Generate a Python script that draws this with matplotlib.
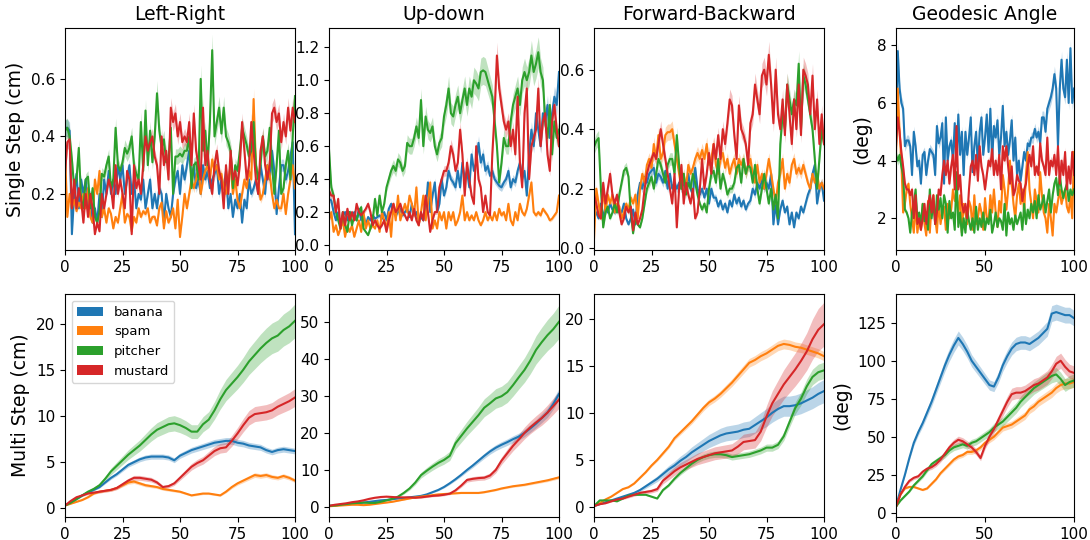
import numpy as np
import matplotlib
matplotlib.use("Agg")
import matplotlib.pyplot as plt
from matplotlib.patches import Patch

objects = ["banana", "spam", "pitcher", "mustard"]
colors = ["#1f77b4", "#ff7f0e", "#2ca02c", "#d62728"]
titles = ["Left-Right", "Up-down", "Forward-Backward", "Geodesic Angle"]

x_single = list(range(0, 101))
x_multi = [i * 2.5 for i in range(41)]

# ---------------- Single step: Left-Right ----------------
lr_banana = [0.43,0.43,0.42,0.06,0.20,0.27,0.15,0.25,0.20,0.25,0.15,0.20,0.10,0.15,0.10,0.20,0.12,0.25,0.20,0.28,
             0.20,0.25,0.20,0.30,0.25,0.30,0.20,0.25,0.30,0.20,0.25,0.15,0.20,0.18,0.25,0.15,0.20,0.25,0.15,0.20,
             0.15,0.22,0.20,0.10,0.20,0.15,0.12,0.20,0.25,0.28,0.20,0.30,0.25,0.30,0.35,0.25,0.30,0.22,0.25,0.20,
             0.30,0.25,0.28,0.22,0.25,0.27,0.30,0.20,0.25,0.22,0.28,0.15,0.20,0.12,0.18,0.15,0.20,0.10,0.18,0.15,
             0.25,0.20,0.22,0.25,0.20,0.30,0.25,0.20,0.30,0.25,0.35,0.28,0.13,0.22,0.30,0.30,0.25,0.28,0.33,0.38,0.06]
lr_spam = [0.35,0.12,0.20,0.15,0.18,0.14,0.17,0.15,0.20,0.15,0.22,0.12,0.10,0.25,0.20,0.28,0.12,0.15,0.10,0.15,
           0.13,0.08,0.12,0.10,0.15,0.20,0.10,0.13,0.12,0.07,0.12,0.10,0.15,0.12,0.14,0.13,0.15,0.10,0.12,0.12,
           0.09,0.15,0.17,0.08,0.14,0.10,0.12,0.15,0.08,0.18,0.05,0.12,0.20,0.15,0.20,0.25,0.22,0.25,0.30,0.20,
           0.25,0.28,0.30,0.25,0.32,0.28,0.30,0.25,0.27,0.22,0.20,0.25,0.30,0.20,0.25,0.18,0.15,0.20,0.25,0.22,
           0.28,0.25,0.53,0.30,0.25,0.18,0.20,0.25,0.30,0.27,0.20,0.15,0.18,0.15,0.15,0.20,0.13,0.20,0.25,0.30,0.22]
lr_pitcher = [0.42,0.43,0.40,0.32,0.22,0.25,0.36,0.18,0.15,0.25,0.26,0.15,0.22,0.12,0.10,0.14,0.27,0.26,0.30,0.33,
              0.22,0.25,0.43,0.30,0.28,0.31,0.36,0.34,0.36,0.40,0.30,0.27,0.25,0.45,0.28,0.49,0.30,0.42,0.31,0.40,
              0.55,0.42,0.36,0.39,0.31,0.32,0.43,0.20,0.33,0.33,0.34,0.33,0.35,0.35,0.40,0.22,0.30,0.31,0.25,0.60,
              0.35,0.42,0.30,0.45,0.70,0.40,0.45,0.50,0.41,0.50,0.40,0.38,0.35,0.22,0.30,0.28,0.35,0.43,0.40,0.37,
              0.33,0.35,0.45,0.30,0.25,0.30,0.40,0.33,0.35,0.43,0.30,0.20,0.30,0.42,0.20,0.22,0.30,0.35,0.25,0.40,0.54]
lr_mustard = [0.27,0.38,0.39,0.15,0.25,0.15,0.22,0.18,0.10,0.20,0.12,0.20,0.15,0.06,0.10,0.07,0.20,0.15,0.20,0.25,
              0.22,0.15,0.30,0.20,0.25,0.20,0.15,0.28,0.25,0.06,0.30,0.22,0.25,0.20,0.30,0.40,0.35,0.38,0.40,0.33,
              0.30,0.20,0.40,0.30,0.35,0.25,0.50,0.45,0.48,0.40,0.45,0.38,0.40,0.38,0.45,0.30,0.48,0.35,0.30,0.25,
              0.50,0.30,0.35,0.25,0.20,0.30,0.35,0.28,0.25,0.15,0.30,0.20,0.35,0.25,0.28,0.23,0.30,0.45,0.35,0.25,
              0.30,0.45,0.35,0.25,0.20,0.35,0.40,0.30,0.25,0.30,0.48,0.50,0.45,0.48,0.38,0.45,0.40,0.50,0.42,0.50,0.45]

# ---------------- Single step: Up-down ----------------
ud_banana = [0.28,0.27,0.20,0.15,0.20,0.12,0.18,0.20,0.15,0.20,0.18,0.20,0.15,0.22,0.15,0.18,0.12,0.17,0.15,0.18,
             0.16,0.17,0.18,0.16,0.20,0.15,0.22,0.25,0.20,0.18,0.20,0.22,0.18,0.20,0.22,0.17,0.25,0.18,0.20,0.15,
             0.17,0.15,0.20,0.38,0.20,0.30,0.38,0.20,0.25,0.40,0.30,0.35,0.45,0.40,0.38,0.35,0.45,0.35,0.50,0.40,
             0.45,0.35,0.55,0.45,0.50,0.62,0.50,0.55,0.45,0.48,0.42,0.45,0.40,0.38,0.36,0.35,0.38,0.40,0.45,0.35,
             0.40,0.38,0.45,0.50,0.40,0.45,0.30,0.55,0.70,0.60,0.80,0.70,0.60,0.80,0.75,0.85,0.65,0.80,0.90,0.85,1.05]
ud_spam = [0.15,0.20,0.08,0.12,0.06,0.10,0.15,0.05,0.12,0.08,0.12,0.05,0.10,0.15,0.08,0.20,0.10,0.15,0.10,0.12,
           0.10,0.15,0.08,0.20,0.15,0.10,0.20,0.05,0.25,0.15,0.30,0.15,0.20,0.25,0.20,0.30,0.25,0.18,0.35,0.12,
           0.20,0.30,0.15,0.25,0.38,0.10,0.15,0.10,0.20,0.15,0.20,0.10,0.20,0.15,0.20,0.12,0.15,0.20,0.30,0.15,
           0.20,0.15,0.18,0.15,0.20,0.15,0.12,0.15,0.20,0.15,0.18,0.15,0.20,0.15,0.22,0.18,0.20,0.15,0.25,0.15,
           0.12,0.20,0.15,0.25,0.20,0.18,0.22,0.30,0.38,0.20,0.18,0.20,0.18,0.22,0.20,0.18,0.15,0.16,0.18,0.20,0.30]
ud_pitcher = [0.58,0.35,0.30,0.20,0.15,0.10,0.20,0.12,0.08,0.20,0.12,0.18,0.15,0.20,0.23,0.10,0.08,0.06,0.10,0.15,
              0.28,0.18,0.30,0.20,0.25,0.35,0.40,0.45,0.48,0.45,0.52,0.50,0.45,0.48,0.62,0.60,0.60,0.65,0.72,0.65,
              0.88,0.60,0.78,0.70,0.68,0.72,0.60,0.55,0.62,0.65,0.78,0.85,0.95,0.80,0.78,0.85,0.90,0.80,0.88,0.95,
              0.85,0.95,0.90,1.00,0.98,0.95,1.05,1.06,1.05,1.00,0.95,0.90,0.75,0.60,0.38,0.50,0.65,0.60,0.60,0.75,
              0.85,0.90,0.95,0.85,1.00,1.05,1.00,1.05,1.15,1.05,1.10,1.17,1.05,1.00,0.75,0.65,0.85,0.55,0.75,0.65,0.70]
ud_mustard = [0.33,0.30,0.30,0.20,0.28,0.10,0.20,0.12,0.22,0.15,0.20,0.15,0.25,0.20,0.18,0.20,0.22,0.25,0.20,0.12,
              0.15,0.12,0.10,0.12,0.15,0.08,0.15,0.20,0.25,0.20,0.22,0.25,0.20,0.18,0.15,0.20,0.15,0.22,0.15,0.12,
              0.20,0.15,0.30,0.20,0.08,0.15,0.20,0.20,0.35,0.40,0.45,0.45,0.50,0.60,0.55,0.45,0.50,0.70,0.55,0.30,
              0.50,0.40,0.30,0.25,0.60,0.40,0.35,0.20,0.30,0.20,0.18,0.55,0.80,1.15,0.95,0.85,0.75,0.70,0.75,0.60,
              0.70,0.55,0.90,0.50,0.35,0.80,0.95,0.40,0.60,0.65,0.70,0.95,0.60,0.75,0.80,0.55,0.45,0.75,0.85,0.70,0.60]

# ---------------- Single step: Forward-Backward ----------------
fb_banana = [0.12,0.12,0.10,0.15,0.10,0.14,0.12,0.15,0.13,0.12,0.13,0.12,0.12,0.15,0.10,0.08,0.10,0.13,0.08,0.18,
             0.22,0.20,0.24,0.22,0.25,0.26,0.27,0.22,0.25,0.24,0.22,0.26,0.20,0.25,0.20,0.22,0.20,0.22,0.20,0.22,
             0.20,0.25,0.20,0.18,0.27,0.20,0.18,0.20,0.17,0.20,0.15,0.20,0.17,0.17,0.14,0.16,0.13,0.15,0.12,0.16,
             0.14,0.18,0.15,0.17,0.14,0.16,0.13,0.15,0.16,0.20,0.18,0.22,0.20,0.23,0.20,0.22,0.20,0.25,0.08,0.15,
             0.08,0.13,0.16,0.12,0.14,0.08,0.12,0.07,0.12,0.10,0.14,0.12,0.15,0.18,0.20,0.25,0.28,0.15,0.20,0.22,0.16]
fb_spam = [0.03,0.20,0.15,0.10,0.20,0.12,0.18,0.15,0.18,0.12,0.15,0.14,0.10,0.12,0.15,0.13,0.17,0.15,0.18,0.10,
           0.20,0.25,0.22,0.28,0.30,0.27,0.35,0.30,0.38,0.30,0.32,0.38,0.39,0.39,0.40,0.35,0.30,0.25,0.20,0.25,
           0.20,0.28,0.25,0.27,0.30,0.32,0.30,0.33,0.30,0.35,0.28,0.30,0.35,0.28,0.25,0.30,0.32,0.27,0.30,0.25,
           0.28,0.30,0.25,0.30,0.28,0.30,0.25,0.28,0.30,0.25,0.22,0.28,0.22,0.25,0.20,0.25,0.30,0.25,0.20,0.15,
           0.22,0.25,0.30,0.20,0.25,0.22,0.28,0.30,0.25,0.27,0.25,0.28,0.25,0.22,0.20,0.25,0.22,0.25,0.20,0.22,0.20]
fb_pitcher = [0.34,0.36,0.37,0.20,0.07,0.12,0.14,0.10,0.12,0.15,0.12,0.18,0.22,0.26,0.27,0.24,0.12,0.05,0.10,0.08,
              0.07,0.10,0.15,0.20,0.22,0.24,0.20,0.25,0.30,0.28,0.25,0.22,0.28,0.30,0.30,0.25,0.38,0.28,0.20,0.25,
              0.18,0.22,0.20,0.25,0.22,0.18,0.15,0.13,0.15,0.12,0.20,0.25,0.26,0.22,0.30,0.20,0.25,0.22,0.18,0.20,
              0.20,0.22,0.27,0.28,0.22,0.30,0.25,0.28,0.27,0.22,0.28,0.20,0.15,0.20,0.25,0.20,0.15,0.20,0.13,0.18,
              0.10,0.35,0.45,0.40,0.55,0.50,0.45,0.50,0.48,0.62,0.40,0.58,0.55,0.50,0.45,0.40,0.30,0.20,0.30,0.40,0.35]
fb_mustard = [0.18,0.15,0.11,0.10,0.22,0.15,0.20,0.25,0.18,0.15,0.18,0.12,0.08,0.10,0.14,0.12,0.14,0.06,0.12,0.08,
              0.10,0.13,0.20,0.25,0.28,0.30,0.32,0.30,0.35,0.40,0.35,0.30,0.25,0.20,0.15,0.25,0.07,0.20,0.28,0.15,
              0.22,0.18,0.15,0.20,0.10,0.12,0.20,0.30,0.20,0.25,0.32,0.25,0.35,0.30,0.38,0.30,0.40,0.35,0.42,0.50,
              0.48,0.38,0.30,0.48,0.40,0.38,0.35,0.28,0.42,0.45,0.55,0.50,0.45,0.58,0.60,0.55,0.65,0.55,0.42,0.60,
              0.45,0.40,0.50,0.38,0.55,0.45,0.35,0.50,0.40,0.55,0.38,0.60,0.58,0.55,0.45,0.58,0.40,0.50,0.35,0.45,0.35]

# ---------------- Single step: Geodesic angle ----------------
ga_banana = [5.0,7.8,6.5,6.0,5.8,4.5,4.7,4.7,4.5,3.5,5.0,4.5,3.8,4.0,3.2,4.2,4.3,3.5,4.0,4.4,
             4.3,4.2,3.5,5.2,4.6,4.8,5.3,3.2,5.5,4.0,4.5,4.7,4.0,5.3,3.8,5.6,4.2,5.0,3.5,5.0,
             4.2,4.8,5.5,3.6,4.5,5.0,3.8,5.0,5.5,4.2,4.8,5.6,4.3,5.8,4.0,5.2,4.8,5.4,4.2,4.8,
             5.9,4.5,5.0,4.2,4.7,5.4,4.0,4.8,3.5,4.0,3.3,3.8,4.3,4.0,4.6,4.5,4.8,4.8,5.1,4.8,
             5.0,4.6,5.5,5.5,5.0,5.8,6.0,6.2,6.5,7.0,6.5,4.5,6.5,7.5,6.5,6.2,7.5,6.0,7.9,6.0,6.5]
ga_spam = [4.2,6.5,5.0,4.0,2.2,2.5,3.0,3.2,2.5,2.0,1.5,2.5,1.5,2.0,1.6,2.5,1.8,1.4,2.6,1.5,
           2.5,2.8,2.0,1.5,2.6,1.8,2.2,2.4,1.6,2.5,2.0,2.3,3.0,2.6,2.8,2.2,2.8,1.5,2.5,2.2,
           1.8,2.6,2.4,1.6,2.8,1.8,2.0,2.5,2.2,1.6,2.7,2.0,1.9,2.8,2.2,3.0,2.2,1.7,2.6,2.2,
           3.5,3.0,2.3,3.0,4.0,3.2,2.5,2.0,2.8,3.2,2.5,3.0,2.2,3.5,4.3,3.0,2.5,2.0,3.0,2.6,
           2.2,3.6,2.8,2.2,2.0,1.5,2.5,2.0,1.4,2.5,2.2,2.6,3.0,2.5,2.8,3.0,2.4,2.2,2.8,2.0,4.3]
ga_pitcher = [4.2,4.0,4.2,3.8,3.5,2.3,2.2,2.0,1.5,2.2,2.5,3.0,2.0,2.2,1.8,2.5,1.9,2.2,1.6,3.0,
              2.0,2.6,1.8,2.8,2.3,2.7,2.0,2.8,2.5,1.5,2.6,2.0,2.2,1.6,3.6,1.7,2.2,1.4,2.0,1.5,
              2.3,1.9,1.6,2.0,1.5,2.4,1.6,2.0,1.7,2.2,1.6,2.0,1.8,2.3,1.5,1.8,2.2,1.7,2.0,1.9,
              1.6,2.5,1.4,2.2,1.8,2.0,1.6,2.1,1.8,2.0,2.2,1.6,2.5,1.8,2.3,2.0,2.5,2.2,2.6,2.0,
              2.8,2.3,2.5,2.8,2.2,2.6,3.0,2.2,2.8,3.2,3.4,2.8,3.5,3.0,2.7,3.0,3.2,2.6,3.0,2.8,3.0]
ga_mustard = [4.5,5.5,5.0,4.3,3.8,3.2,3.0,3.0,2.8,3.0,2.0,2.8,1.8,2.0,1.6,2.0,2.5,1.8,2.5,2.8,
              2.2,2.8,1.8,2.2,3.0,2.8,3.5,4.0,3.5,4.0,3.2,3.8,4.2,3.0,5.2,3.0,3.5,2.5,2.2,2.5,
              2.0,3.0,3.8,4.0,3.5,4.2,3.3,4.5,3.8,3.5,3.0,3.5,4.0,3.8,4.4,3.5,4.0,3.5,4.2,3.0,
              4.5,4.0,4.5,3.8,3.2,3.8,2.8,3.0,3.5,3.3,3.2,2.6,3.0,3.2,3.8,4.2,3.8,4.5,3.5,3.8,
              3.5,4.6,4.0,3.8,3.5,4.8,3.5,4.0,3.8,4.2,3.5,4.5,3.2,4.0,3.5,4.3,3.0,3.8,3.2,4.3,3.5]

# ---------------- Multi step (x every 2.5 steps) ----------------
ms_lr_banana = [0.3,0.6,1.0,1.4,1.7,2.0,2.3,2.8,3.3,3.7,4.2,4.7,5.0,5.3,5.5,5.6,5.6,5.6,5.5,5.2,
                5.7,6.0,6.3,6.5,6.7,6.9,7.1,7.2,7.3,7.3,7.1,7.0,6.8,6.7,6.6,6.3,6.1,6.3,6.4,6.3,6.2]
ms_lr_spam = [0.3,0.5,0.7,0.9,1.2,1.6,1.8,1.9,2.0,2.2,2.5,2.8,2.9,2.7,2.5,2.4,2.3,2.1,2.0,1.9,
              1.8,1.6,1.4,1.5,1.6,1.6,1.5,1.4,1.8,2.3,2.7,3.0,3.3,3.6,3.5,3.6,3.4,3.3,3.5,3.3,3.0]
ms_lr_pitcher = [0.3,0.6,1.0,1.4,1.8,2.1,2.5,3.2,4.0,4.6,5.2,5.8,6.3,6.8,7.4,8.0,8.5,8.8,9.1,9.2,
                 9.0,8.7,8.3,8.3,9.1,9.6,10.6,11.8,12.8,13.5,14.2,15.0,15.9,16.6,17.3,17.9,18.4,18.7,19.3,19.7,20.3]
ms_lr_mustard = [0.3,0.8,1.2,1.4,1.6,1.7,1.8,1.9,2.0,2.2,2.6,3.0,3.3,3.3,3.2,3.1,2.8,2.3,2.4,2.7,
                 3.3,3.9,4.5,4.9,5.2,5.7,6.2,6.5,6.6,7.3,8.1,9.0,9.8,10.2,10.3,10.4,10.6,11.0,11.3,11.6,12.0]

ms_ud_banana = [0.3,0.4,0.6,0.8,0.9,1.0,1.2,1.4,1.6,1.8,1.9,2.1,2.3,2.4,2.6,2.8,3.0,3.4,4.0,4.6,
                5.4,6.4,7.5,8.7,10.0,11.2,12.5,13.8,15.0,16.0,16.8,17.5,18.3,19.0,20.0,21.2,22.5,24.0,25.5,27.8,30.5]
ms_ud_spam = [0.2,0.3,0.4,0.5,0.6,0.6,0.5,0.6,0.8,1.0,1.2,1.4,1.7,2.0,2.3,2.6,2.8,3.0,3.2,3.4,
              3.5,3.6,3.7,3.8,3.8,3.8,3.8,4.0,4.3,4.6,5.0,5.3,5.6,5.8,6.0,6.3,6.6,6.9,7.2,7.6,8.0]
ms_ud_pitcher = [0.3,0.4,0.6,0.8,1.0,1.1,1.2,1.1,1.1,1.4,1.8,2.2,2.8,3.8,5.0,6.6,8.6,9.8,10.9,11.9,
                 12.7,13.8,17.2,19.2,21.2,23.0,24.8,26.8,28.0,29.3,29.9,31.0,32.9,35.0,37.0,39.5,42.4,44.5,46.4,48.0,50.0]
ms_ud_mustard = [0.3,0.6,0.8,1.0,1.3,1.5,1.8,2.2,2.5,2.7,2.8,2.7,2.6,2.6,2.6,2.5,2.6,2.8,3.0,3.1,
                 3.3,3.6,4.5,5.8,7.3,7.6,7.8,7.9,8.5,10.0,12.5,14.5,16.5,18.2,20.0,21.5,22.8,24.0,25.5,27.2,29.0]

ms_fb_banana = [0.1,0.3,0.5,0.7,0.9,1.1,1.3,1.5,1.8,2.2,2.6,3.0,3.5,4.0,4.4,4.9,5.3,5.8,6.2,6.6,
                7.0,7.3,7.6,7.8,7.9,8.0,8.2,8.3,8.7,9.1,9.5,10.0,10.4,10.7,10.7,10.8,11.0,11.3,11.6,12.0,12.3]
ms_fb_spam = [0.1,0.4,0.8,1.1,1.5,1.9,2.1,2.5,3.1,3.7,4.4,5.0,5.7,6.4,7.3,7.9,8.5,9.1,9.8,10.5,
              11.1,11.5,12.0,12.6,13.2,13.9,14.6,15.3,15.6,16.0,16.3,16.7,17.1,17.3,17.2,17.0,16.9,16.7,16.5,16.3,16.0]
ms_fb_pitcher = [0.1,0.7,0.7,0.7,0.6,0.9,1.2,1.3,1.3,1.3,1.1,0.9,1.8,2.3,3.0,3.6,4.1,4.6,5.0,5.3,
                 5.5,5.6,5.6,5.5,5.3,5.4,5.5,5.6,5.8,6.0,6.3,6.3,6.6,7.5,9.0,10.5,11.5,12.8,13.8,14.3,14.5]
ms_fb_mustard = [0.1,0.3,0.4,0.6,0.8,0.9,1.1,1.3,1.5,1.6,1.7,1.9,2.8,3.3,3.8,4.2,4.5,4.8,5.1,5.3,
                 5.5,5.7,5.8,5.9,6.0,6.4,6.9,7.0,7.1,8.0,9.6,11.0,12.0,13.0,13.8,14.6,15.5,16.5,17.8,18.8,19.4]

ms_ga_banana = [4,15,25,36,46,53,59,66,73,81,89,97,104,110,115,111,106,100,96,92,
                88,84,83,89,97,103,108,111,112,112,111,113,115,118,121,131,132,131,130,130,128]
ms_ga_spam = [4,12,16,17,17,16,15,16,19,22,26,29,32,35,37,38,40,40,41,43,
              46,48,50,53,56,57,58,60,62,64,68,70,73,75,77,79,82,84,85,85,86]
ms_ga_pitcher = [4,8,11,14,18,21,24,28,32,34,36,38,41,43,44,45,44,46,47,49,
                 51,53,56,58,60,63,66,69,73,76,79,82,84,86,88,90,91,88,84,86,87]
ms_ga_mustard = [4,12,17,21,23,24,27,29,30,32,35,39,43,46,48,47,45,43,40,36,
                 44,50,55,61,67,73,78,79,79,80,82,84,85,87,89,93,98,100,96,93,92]

# relative half-width of the shaded band, per panel and object
band_single = [[0.07, 0.07, 0.08, 0.07], [0.07, 0.07, 0.08, 0.07],
               [0.07, 0.07, 0.07, 0.07], [0.04, 0.04, 0.04, 0.04]]
band_multi = [[0.05, 0.07, 0.09, 0.08], [0.05, 0.05, 0.09, 0.08],
              [0.10, 0.03, 0.06, 0.12], [0.04, 0.04, 0.05, 0.05]]

single = [[lr_banana, lr_spam, lr_pitcher, lr_mustard],
          [ud_banana, ud_spam, ud_pitcher, ud_mustard],
          [fb_banana, fb_spam, fb_pitcher, fb_mustard],
          [ga_banana, ga_spam, ga_pitcher, ga_mustard]]
multi = [[ms_lr_banana, ms_lr_spam, ms_lr_pitcher, ms_lr_mustard],
         [ms_ud_banana, ms_ud_spam, ms_ud_pitcher, ms_ud_mustard],
         [ms_fb_banana, ms_fb_spam, ms_fb_pitcher, ms_fb_mustard],
         [ms_ga_banana, ms_ga_spam, ms_ga_pitcher, ms_ga_mustard]]

fig = plt.figure(figsize=(10.9, 5.4), dpi=100)
W, H = 1090.0, 540.0
cols = [(65, 230), (329, 230), (594, 230), (896, 178)]
rows = [(28, 250), (294, 517)]

ylims_top = [(0.005, 0.777), (-0.03, 1.317), (-0.006, 0.74), (0.9, 8.6)]
ylims_bot = [(-0.94, 23.2), (-2.7, 57.5), (-1.06, 22.6), (-2.8, 143.9)]
yticks_top = [[0.2, 0.4, 0.6], [0.0, 0.2, 0.4, 0.6, 0.8, 1.0, 1.2], [0.0, 0.2, 0.4, 0.6], [2, 4, 6, 8]]
yticks_bot = [[0, 5, 10, 15, 20], [0, 10, 20, 30, 40, 50], [0, 5, 10, 15, 20], [0, 25, 50, 75, 100, 125]]

for r, (top, bot) in enumerate(rows):
    for c, (left, width) in enumerate(cols):
        ax = fig.add_axes([left / W, 1 - bot / H, width / W, (bot - top) / H])
        data = single[c] if r == 0 else multi[c]
        xs = np.array(x_single if r == 0 else x_multi, dtype=float)
        bands = band_single[c] if r == 0 else band_multi[c]
        for k in range(4):
            y = np.array(data[k], dtype=float)
            ax.fill_between(xs, y * (1 - bands[k]), y * (1 + bands[k]),
                            color=colors[k], alpha=0.3, lw=0)
            ax.plot(xs, y, color=colors[k], lw=1.5, label=objects[k])
        ax.set_xlim(0, 100)
        if c == 3:
            ax.set_xticks([0, 50, 100])
        else:
            ax.set_xticks([0, 25, 50, 75, 100])
        if r == 0:
            ax.set_ylim(*ylims_top[c])
            ax.set_yticks(yticks_top[c])
            ax.set_title(titles[c], fontsize=13.5)
        else:
            ax.set_ylim(*ylims_bot[c])
            ax.set_yticks(yticks_bot[c])
        ax.tick_params(labelsize=11)
        if c == 0:
            ax.set_ylabel("Single Step (cm)" if r == 0 else "Multi Step (cm)", fontsize=13.5)
        if c == 3:
            ax.set_ylabel("(deg)", fontsize=13.5)
        if r == 1 and c == 0:
            handles = [Patch(facecolor=colors[k], label=objects[k]) for k in range(4)]
            ax.legend(handles=handles, loc="upper left", fontsize=9.5)

fig.savefig("out.png", dpi=100)
